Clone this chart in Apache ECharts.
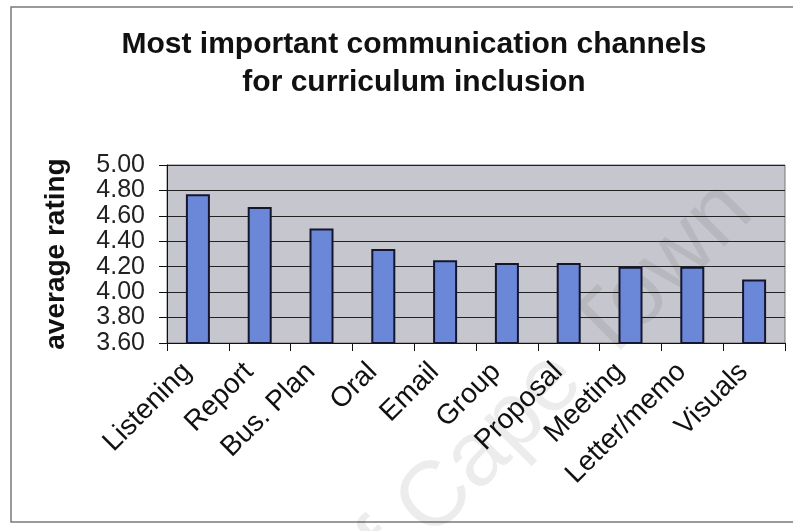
<!DOCTYPE html>
<html>
<head>
<meta charset="utf-8">
<script src="https://cdn.jsdelivr.net/npm/echarts@6/dist/echarts.min.js"></script>
<style>
html,body{margin:0;padding:0;background:#fff;}
#c{width:793px;height:531px;}
</style>
</head>
<body>
<div id="c"></div>
<script>
var titleText = 'Most important communication channels\nfor curriculum inclusion';
var categories = ['Listening', 'Report', 'Bus. Plan', 'Oral', 'Email', 'Group', 'Proposal', 'Meeting', 'Letter/memo', 'Visuals'];
var ratings = [4.77, 4.67, 4.50, 4.34, 4.25, 4.23, 4.23, 4.20, 4.20, 4.10];
var yAxisName = 'average rating';
var yMin = 3.6, yMax = 5.0, yStep = 0.2;
var watermark = 'University of Cape Town';

var chart = echarts.init(document.getElementById('c'), null, {renderer: 'canvas'});
var FONT = '"Liberation Sans", Arial, sans-serif';
chart.setOption({
  backgroundColor: '#ffffff',
  animation: false,
  title: {
    text: titleText,
    left: 409,
    textAlign: 'center',
    top: 21,
    textStyle: {fontFamily: FONT, fontWeight: 'bold', fontSize: 30, lineHeight: 38, color: '#111'}
  },
  graphic: [
    {type: 'rect', z: 0, silent: true, shape: {x: 11, y: 7, width: 800, height: 515},
     style: {fill: 'none', stroke: '#7a7a7a', lineWidth: 1.5}},
    {type: 'text', z: 1, silent: true, x: 738, y: 197, rotation: Math.PI / 4,
     style: {text: watermark, fontFamily: FONT, fontSize: 92, fill: 'rgba(0,0,0,0.075)', align: 'right', verticalAlign: 'middle'}}
  ],
  grid: {left: 167, right: 8, top: 165, bottom: 188, show: true, backgroundColor: '#c6c6ce', borderColor: '#777', borderWidth: 1, outerBoundsMode: 'none'},
  xAxis: {
    type: 'category',
    data: categories,
    boundaryGap: true,
    axisLine: {lineStyle: {color: '#111', width: 1}},
    axisTick: {show: true, inside: false, length: 8, lineStyle: {color: '#111'}},
    axisLabel: {rotate: 45, margin: 14, padding: [0, 15, 12, 0], fontFamily: FONT, fontSize: 28, color: '#111', interval: 0}
  },
  yAxis: {
    type: 'value',
    min: yMin, max: yMax, interval: yStep,
    name: yAxisName,
    nameLocation: 'middle',
    nameGap: 97,
    nameTextStyle: {fontFamily: FONT, fontWeight: 'bold', fontSize: 28, color: '#111'},
    axisLine: {show: true, lineStyle: {color: '#111', width: 1}},
    axisTick: {show: true, length: 8, lineStyle: {color: '#111'}},
    axisLabel: {
      margin: 22, fontFamily: FONT, fontSize: 25, color: '#222',
      formatter: function (v) { return v.toFixed(2); }
    },
    splitLine: {show: true, lineStyle: {color: '#222', width: 1}}
  },
  series: [{
    type: 'bar',
    data: ratings,
    barWidth: 24,
    itemStyle: {color: '#6b88d8', borderColor: '#151530', borderWidth: 2}
  }]
});
</script>
</body>
</html>
